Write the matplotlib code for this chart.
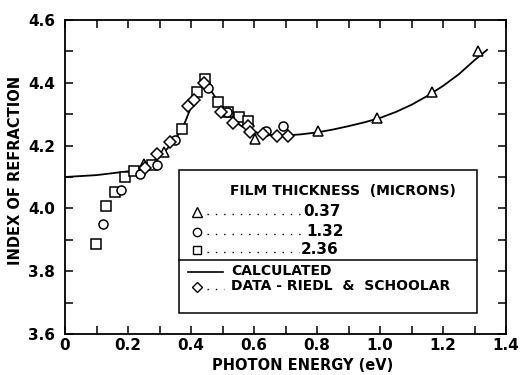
import matplotlib
matplotlib.use("Agg")
import matplotlib.pyplot as plt
from matplotlib.ticker import MultipleLocator
from matplotlib.patches import Rectangle

plt.rcParams['font.family'] = ['DejaVu Sans']

# ---- data ----
calc_x = [0.0, 0.1, 0.2, 0.25, 0.3, 0.35, 0.38, 0.4, 0.42, 0.444, 0.46, 0.48, 0.5, 0.53,
          0.56, 0.6, 0.65, 0.7, 0.75, 0.8, 0.85, 0.9, 0.95, 1.0, 1.05, 1.1, 1.15, 1.2, 1.25, 1.3, 1.34]
calc_y = [4.100, 4.106, 4.118, 4.132, 4.163, 4.218, 4.272, 4.322, 4.362, 4.409, 4.380, 4.350, 4.324, 4.285,
          4.262, 4.243, 4.234, 4.232, 4.236, 4.242, 4.251, 4.262, 4.274, 4.288, 4.307, 4.330, 4.358, 4.390, 4.427, 4.472, 4.505]

tri_x = [0.251, 0.315, 0.603, 0.804, 0.989, 1.164, 1.312]
tri_y = [4.141, 4.181, 4.220, 4.246, 4.287, 4.372, 4.502]

circ_x = [0.122, 0.178, 0.238, 0.293, 0.349, 0.455, 0.515, 0.638, 0.693]
circ_y = [3.949, 4.059, 4.110, 4.139, 4.218, 4.382, 4.306, 4.247, 4.263]

sq_x = [0.098, 0.130, 0.159, 0.191, 0.219, 0.275, 0.370, 0.420, 0.444, 0.487, 0.519, 0.553, 0.582]
sq_y = [3.887, 4.009, 4.051, 4.101, 4.119, 4.138, 4.252, 4.372, 4.412, 4.338, 4.308, 4.292, 4.279]

dia_x = [0.254, 0.293, 0.333, 0.392, 0.410, 0.441, 0.494, 0.534, 0.582, 0.587, 0.628, 0.672, 0.709]
dia_y = [4.130, 4.172, 4.212, 4.327, 4.345, 4.398, 4.308, 4.271, 4.262, 4.244, 4.237, 4.231, 4.231]

xticks = [0, 0.2, 0.4, 0.6, 0.8, 1.0, 1.2, 1.4]
xticklabels = ['0', '0.2', '0.4', '0.6', '0.8', '1.0', '1.2', '1.4']
yticks = [3.6, 3.8, 4.0, 4.2, 4.4, 4.6]
yticklabels = ['3.6', '3.8', '4.0', '4.2', '4.4', '4.6']

legend_header = 'FILM THICKNESS  (MICRONS)'
legend_thick = ['0.37', '1.32', '2.36']
legend_calc = 'CALCULATED'
legend_data = 'DATA - RIEDL  &  SCHOOLAR'

# ---- figure ----
W, H = 521, 375
fig = plt.figure(figsize=(W / 100, H / 100), dpi=100)
L, R, T, B = 65, 506, 20, 334
ax = fig.add_axes([L / W, (H - B) / H, (R - L) / W, (B - T) / H])

ax.plot(calc_x, calc_y, color='black', lw=1.3, zorder=2)
mk = dict(linestyle='none', mfc='white', mec='black', mew=1.1, zorder=3)
ax.plot(sq_x, sq_y, marker='s', ms=6.5, **mk)
ax.plot(circ_x, circ_y, marker='o', ms=6.5, **mk)
ax.plot(tri_x, tri_y, marker='^', ms=7.5, **mk)
ax.plot(dia_x, dia_y, marker='D', ms=6, **mk)

ax.set_xlim(0, 1.4)
ax.set_ylim(3.6, 4.6)
ax.set_xticks(xticks)
ax.set_xticklabels(xticklabels)
ax.set_yticks(yticks)
ax.set_yticklabels(yticklabels)
ax.xaxis.set_minor_locator(MultipleLocator(0.1))
ax.yaxis.set_minor_locator(MultipleLocator(0.1))
ax.tick_params(which='both', direction='in', top=True, right=True, width=1.1)
ax.tick_params(which='major', length=6, labelsize=11)
ax.tick_params(axis='x', which='major', pad=3)
ax.tick_params(axis='y', which='major', pad=7)
ax.tick_params(which='minor', length=6)
for lab in ax.get_xticklabels() + ax.get_yticklabels():
    lab.set_fontweight('bold')
for s in ax.spines.values():
    s.set_linewidth(1.3)

ax.set_xlabel('PHOTON ENERGY (eV)', fontsize=10.5, fontweight='bold', labelpad=0)
ax.xaxis.set_label_coords((303 - L) / (R - L), -(366 - B) / (B - T), transform=ax.transAxes)
ax.xaxis.label.set_va('center')
ax.set_ylabel('INDEX OF REFRACTION', fontsize=10.5, fontweight='bold')
ax.yaxis.set_label_coords(-(L - 16) / (R - L), (B - 170) / (B - T), transform=ax.transAxes)
ax.yaxis.label.set_va('center')

# ---- custom legend ----
def fx(px):
    return (px - L) / (R - L)

def fy(py):
    return (B - py) / (B - T)

tr = ax.transAxes
ax.add_patch(Rectangle((fx(179), fy(313)), fx(477) - fx(179), fy(170) - fy(313),
                       transform=tr, fill=True, fc='white', ec='black', lw=1.1, zorder=4))
ax.plot([fx(179), fx(477)], [fy(260), fy(260)], transform=tr, color='black', lw=1.1, zorder=5)

tk = dict(transform=tr, fontsize=10, fontweight='bold', va='center', ha='left', zorder=6)
ax.text(fx(230), fy(191), legend_header, **tk)

lm = dict(linestyle='none', mfc='white', mec='black', mew=1.0, transform=tr, zorder=6, clip_on=False)
dots = dict(transform=tr, color='black', lw=1.0, linestyle=(0, (1, 5)), zorder=6)
rows = [('^', 211.7, 300, 303, 6.5), ('o', 231.7, 304, 306, 6), ('s', 250, 299, 301, 5.5)]
for (m, py, dend, tx, ms), lab in zip(rows, legend_thick):
    ax.plot([fx(197)], [fy(py)], marker=m, ms=ms, **lm)
    ax.plot([fx(207), fx(dend)], [fy(py + 2), fy(py + 2)], **dots)
    ax.text(fx(tx), fy(py), lab, **dict(tk, fontsize=11))

ax.plot([fx(188), fx(223)], [fy(271.7), fy(271.7)], transform=tr, color='black', lw=1.2, zorder=6)
ax.text(fx(231), fy(271), legend_calc, **tk)
ax.plot([fx(197)], [fy(286.7)], marker='D', ms=5.5, **lm)
ax.plot([fx(207), fx(224)], [fy(288.7), fy(288.7)], **dots)
ax.text(fx(231), fy(286.5), legend_data, **tk)

fig.savefig('out.png', dpi=100)
